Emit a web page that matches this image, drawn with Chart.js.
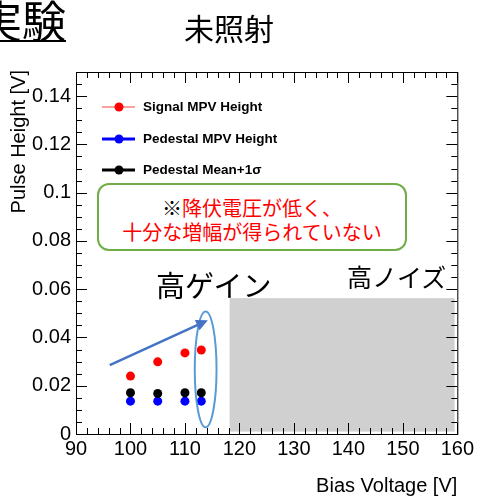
<!DOCTYPE html>
<html>
<head>
<meta charset="utf-8">
<script src="https://cdn.jsdelivr.net/npm/chart.js@4.4.0/dist/chart.umd.min.js"></script>
<style>
  body { margin: 0; background: #fff; }
  #wrap { position: relative; width: 477px; height: 496px; overflow: hidden; font-family: "Noto Sans CJK JP", sans-serif; }
  #chart { position: absolute; left: 0; top: 0; }
  .lbl { position: absolute; white-space: nowrap; line-height: 1; color: #000; }
  #title { left: -22px; top: -3px; font-size: 44px; text-decoration: underline; text-decoration-thickness: 2px; text-underline-offset: 2px; }
  #subtitle { left: 184px; top: 12px; font-size: 30px; }
  #gain { left: 156px; top: 270px; font-size: 29px; }
  #noise { left: 347px; top: 264px; font-size: 25px; }
  #note {
    position: absolute; left: 97px; top: 183px; width: 306px;
    border: 2.5px solid #70ad47; border-radius: 12px; background: #fff;
    font-size: 20px; line-height: 24px; text-align: center; color: #ff0000;
    padding-top: 11px; height: 53px; box-sizing: content-box;
  }
  #note .mark { color: #000; }
</style>
</head>
<body>
<div id="wrap">
  <canvas id="chart" width="477" height="496"></canvas>
  <div class="lbl" id="title">実験</div>
  <div class="lbl" id="subtitle">未照射</div>
  <div id="note"><span class="mark">※</span>降伏電圧が低く、<br>十分な増幅が得られていない</div>
  <div class="lbl" id="gain">高ゲイン</div>
  <div class="lbl" id="noise">高ノイズ</div>
</div>
<script>
// data
const biasVoltage = [100, 105, 110, 113];
const signalMPV = [0.0240, 0.0299, 0.0336, 0.0348];
const pedestalMPV = [0.0136, 0.0136, 0.0136, 0.0136];
const pedestalMean1s = [0.0171, 0.0168, 0.0171, 0.0171];
const seriesNames = ['Signal MPV Height', 'Pedestal MPV Height', 'Pedestal Mean+1σ'];
const seriesColors = ['#ff0000', '#0000ff', '#000000'];
const legendLineColors = ['#ff8080', '#0000ff', '#000000'];

const xTicks = [90, 100, 110, 120, 130, 140, 150, 160];
const yTicks = [0, 0.02, 0.04, 0.06, 0.08, 0.1, 0.12, 0.14];

// annotations (data coordinates)
const noiseRegion = { xMin: 118.2, xMax: 159.5, yMin: 0.001, yMax: 0.0563 };
const gainEllipse = { x: 113.8, y: 0.0268, rx: 2.0, ry: 0.024 };
const gainArrow = { x0: 96.2, y0: 0.0285, x1: 114.2, y1: 0.0471 };

const SANS = '"Liberation Sans", Arial, sans-serif';

function drawTicks(ctx, area, x, y) {
    const major = 11, minor = 6;
    ctx.strokeStyle = '#000';
    ctx.lineWidth = 1;
    ctx.beginPath();
    // x ticks, bottom and top
    for (let v = 90; v <= 160; v += 2) {
        const px = Math.round(x.getPixelForValue(v)) + 0.5;
        const len = v % 10 === 0 ? major : minor;
        ctx.moveTo(px, area.bottom); ctx.lineTo(px, area.bottom - len);
        ctx.moveTo(px, area.top); ctx.lineTo(px, area.top + len);
    }
    // y ticks, left and right
    for (let i = 0; i <= 30; i++) {
        const v = i * 0.005;
        const py = Math.round(y.getPixelForValue(v)) + 0.5;
        const len = i % 4 === 0 ? major : minor;
        ctx.moveTo(area.left, py); ctx.lineTo(area.left + len, py);
        ctx.moveTo(area.right, py); ctx.lineTo(area.right - len, py);
    }
    ctx.stroke();
    ctx.strokeRect(area.left + 0.5, area.top + 0.5, area.right - area.left, area.bottom - area.top);
}

const overlay = {
    id: 'overlay',
    beforeDatasetsDraw(chart) {
        const { ctx, scales: { x, y } } = chart;
        ctx.save();
        ctx.fillStyle = '#d0d0d0';
        const x0 = x.getPixelForValue(noiseRegion.xMin);
        const x1 = x.getPixelForValue(noiseRegion.xMax);
        const y0 = y.getPixelForValue(noiseRegion.yMax);
        const y1 = y.getPixelForValue(noiseRegion.yMin);
        ctx.fillRect(x0, y0, x1 - x0, y1 - y0);
        ctx.restore();
    },
    afterDatasetsDraw(chart) {
        const { ctx, chartArea: area, scales: { x, y } } = chart;
        ctx.save();
        drawTicks(ctx, area, x, y);

        // ellipse around highest voltage points
        ctx.strokeStyle = '#5b9bd5';
        ctx.lineWidth = 2;
        ctx.beginPath();
        const cx = x.getPixelForValue(gainEllipse.x);
        const cy = y.getPixelForValue(gainEllipse.y);
        const rx = x.getPixelForValue(gainEllipse.x + gainEllipse.rx) - cx;
        const ry = cy - y.getPixelForValue(gainEllipse.y + gainEllipse.ry);
        ctx.ellipse(cx, cy, rx, ry, 0, 0, Math.PI * 2);
        ctx.stroke();

        // arrow
        const ax0 = x.getPixelForValue(gainArrow.x0), ay0 = y.getPixelForValue(gainArrow.y0);
        const ax1 = x.getPixelForValue(gainArrow.x1), ay1 = y.getPixelForValue(gainArrow.y1);
        const ang = Math.atan2(ay1 - ay0, ax1 - ax0);
        const head = 13;
        ctx.strokeStyle = '#4472c4';
        ctx.fillStyle = '#4472c4';
        ctx.lineWidth = 2.5;
        ctx.beginPath();
        ctx.moveTo(ax0, ay0);
        ctx.lineTo(ax1 - head * 0.8 * Math.cos(ang), ay1 - head * 0.8 * Math.sin(ang));
        ctx.stroke();
        ctx.beginPath();
        ctx.moveTo(ax1, ay1);
        ctx.lineTo(ax1 - head * Math.cos(ang - 0.45), ay1 - head * Math.sin(ang - 0.45));
        ctx.lineTo(ax1 - head * Math.cos(ang + 0.45), ay1 - head * Math.sin(ang + 0.45));
        ctx.closePath();
        ctx.fill();

        // legend
        const legendY = [107, 139, 170];
        ctx.textBaseline = 'middle';
        ctx.font = 'bold 13.5px ' + SANS;
        seriesNames.forEach((name, i) => {
            const ly = legendY[i];
            ctx.strokeStyle = legendLineColors[i];
            ctx.lineWidth = i === 0 ? 1.5 : 3;
            ctx.beginPath();
            ctx.moveTo(102, ly); ctx.lineTo(135, ly);
            ctx.stroke();
            ctx.fillStyle = seriesColors[i];
            ctx.beginPath();
            ctx.arc(119, ly, 4.5, 0, Math.PI * 2);
            ctx.fill();
            ctx.fillStyle = '#000';
            ctx.fillText(name, 143, ly);
        });

        // axis titles
        ctx.font = '20px ' + SANS;
        ctx.fillStyle = '#000';
        ctx.textAlign = 'right';
        ctx.textBaseline = 'middle';
        ctx.fillText('Bias Voltage [V]', area.right, 486);
        ctx.save();
        ctx.translate(19, area.top - 2);
        ctx.rotate(-Math.PI / 2);
        ctx.fillText('Pulse Height [V]', 0, 0);
        ctx.restore();
        ctx.restore();
    }
};

const makeSet = (i, values) => ({
    label: seriesNames[i],
    data: biasVoltage.map((v, k) => ({ x: v, y: values[k] })),
    backgroundColor: seriesColors[i],
    borderColor: seriesColors[i],
    borderWidth: 0,
    pointRadius: 4.5,
    showLine: false
});

new Chart(document.getElementById('chart'), {
    type: 'scatter',
    data: {
        datasets: [
            makeSet(2, pedestalMean1s),
            makeSet(1, pedestalMPV),
            makeSet(0, signalMPV)
        ]
    },
    options: {
        responsive: false,
        animation: false,
        devicePixelRatio: 1,
        layout: { padding: { top: 72, right: 19, left: 0, bottom: 0 } },
        plugins: { legend: { display: false }, tooltip: { enabled: false } },
        scales: {
            x: {
                type: 'linear',
                min: 90, max: 160,
                grid: { display: false, drawTicks: false },
                border: { display: false },
                afterBuildTicks: s => { s.ticks = xTicks.map(v => ({ value: v })); },
                afterFit: s => { s.height = 62; },
                ticks: {
                    autoSkip: false, maxRotation: 0, padding: 3, color: '#000',
                    font: { family: SANS, size: 20 },
                    callback: v => String(v)
                }
            },
            y: {
                type: 'linear',
                min: 0, max: 0.15,
                grid: { display: false, drawTicks: false },
                border: { display: false },
                afterBuildTicks: s => { s.ticks = yTicks.map(v => ({ value: v })); },
                afterFit: s => { s.width = 76; },
                ticks: {
                    autoSkip: false, padding: 5, color: '#000',
                    font: { family: SANS, size: 20 },
                    callback: v => String(+v.toFixed(2))
                }
            }
        }
    },
    plugins: [overlay]
});
</script>
</body>
</html>
